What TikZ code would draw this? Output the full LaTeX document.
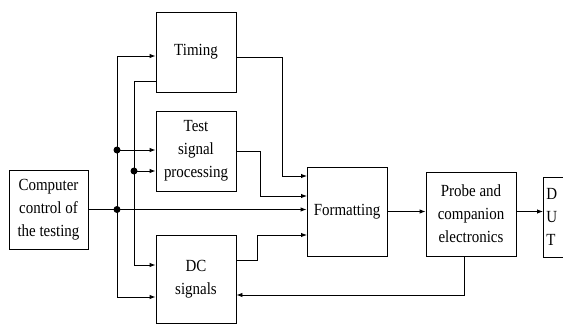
\documentclass[tikz,border=0pt]{standalone}
\usepackage{fontspec}
\setmainfont{Liberation Serif}
\newfontfamily\boxfont{Liberation Serif}[FakeStretch=0.88]
\usepackage{tikz}
\usetikzlibrary{positioning, arrows.meta}

\begin{document}
\begin{tikzpicture}[
        x=1pt, y=-1pt,
        block/.style={
            rectangle, draw=black, fill=white, line width=0.9pt,
            font=\boxfont\fontsize{17}{23}\selectfont, align=center, inner sep=2pt
        },
        arrow/.style={-{Latex[length=6pt,width=4.5pt]}, line width=0.9pt},
        wire/.style={line width=0.9pt},
        dot/.style={fill=black}
    ]
        \useasboundingbox (0,0) rectangle (563,324);
        % blocks
        \node[block, minimum width=79pt, minimum height=79pt] (comp) at (48.5,209.5)
            {Computer\\control of\\the testing};
        \node[block, minimum width=80pt, minimum height=80pt] (timing) at (196,52) {Timing};
        \node[block, minimum width=80pt, minimum height=80pt] (tsp) at (196,151)
            {Test\\signal\\processing};
        \node[block, minimum width=80pt, minimum height=88pt] (dc) at (196,279) {DC\\signals};
        \node[block, minimum width=80pt, minimum height=89pt] (fmt) at (347,211.5) {Formatting};
        \node[block, minimum width=90pt, minimum height=84pt] (probe) at (471,214)
            {Probe and\\companion\\electronics};
        \node[block, anchor=west, text width=30pt, align=left, inner xsep=3pt,
            minimum height=80pt] (dut) at (543,217) {D\\U\\T};

        % control buses
        \coordinate (busA) at (117,56);
        \coordinate (busAend) at (117,297);
        \coordinate (jA) at (117,150);
        \coordinate (busB) at (134,81);
        \coordinate (busBend) at (134,265);
        \coordinate (jB) at (134,171);
        \coordinate (jM) at (comp.east -| busA);

        \draw[arrow] (busAend) -- (busA) -- (busA -| timing.west);
        \draw[arrow] (busAend) -- (busAend -| dc.west);
        \draw[arrow] (jA) -- (jA -| tsp.west);
        \draw[wire] (timing.west |- busB) -- (busB) -- (busBend);
        \draw[arrow] (busBend) -- (busBend -| dc.west);
        \draw[arrow] (jB) -- (jB -| tsp.west);
        \draw[arrow] (comp.east) -- (comp.east -| fmt.west);
        \fill[dot] (jA) circle (3.5pt);
        \fill[dot] (jB) circle (3.5pt);
        \fill[dot] (jM) circle (3.5pt);

        % into formatting
        \coordinate (fin1) at (307,176);
        \coordinate (fin2) at (307,196);
        \coordinate (fin4) at (307,235);
        \draw[arrow] ([yshift=-5pt]timing.east) -- ++(46,0) |- (fin1);
        \draw[arrow] (tsp.east) -- ++(24,0) |- (fin2);
        \draw[arrow] ([yshift=19pt]dc.east) -- ++(21,0) |- (fin4);

        % output chain
        \draw[arrow] (fmt.east) -- (fmt.east -| probe.west);
        \draw[arrow] (fmt.east -| probe.east) -- (fmt.east -| dut.west);
        \draw[arrow] ([xshift=-7pt]probe.south) |- ([yshift=-16pt]dc.east);
    \end{tikzpicture}
\end{document}
